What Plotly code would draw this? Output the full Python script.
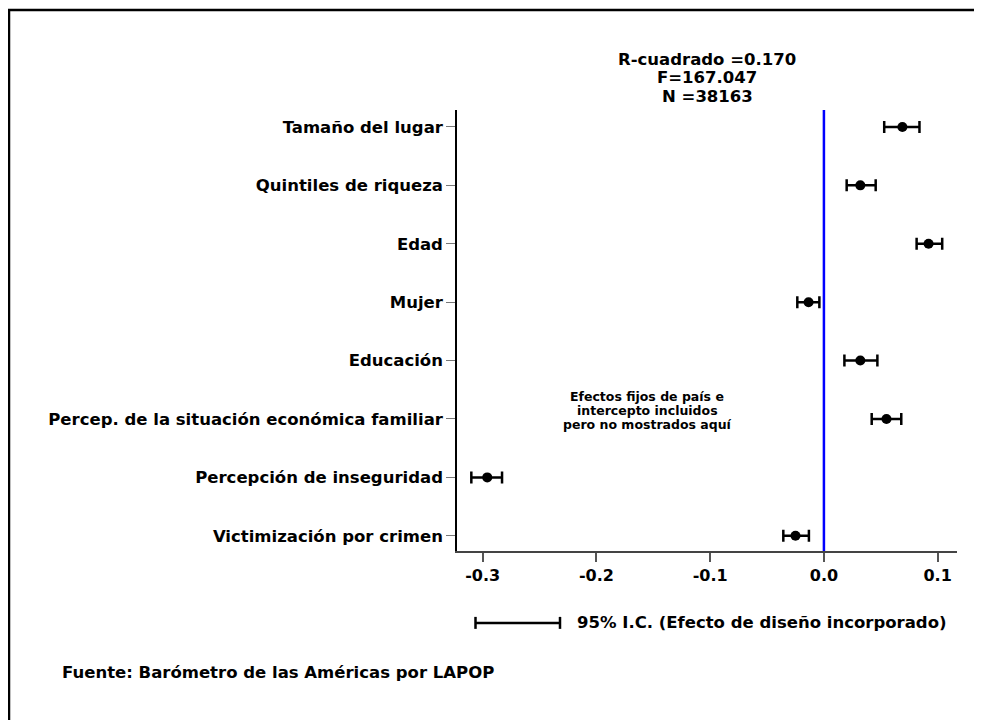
"""Coeficientes de regresión con intervalos de confianza al 95% (LAPOP)"""

import plotly.graph_objects as go

variables = [
    "Tamaño del lugar",
    "Quintiles de riqueza",
    "Edad",
    "Mujer",
    "Educación",
    "Percep. de la situación económica familiar",
    "Percepción de inseguridad",
    "Victimización por crimen",
]
coef = [0.069, 0.032, 0.092, -0.0135, 0.032, 0.055, -0.296, -0.025]
ci_low = [0.053, 0.020, 0.0815, -0.0234, 0.018, 0.042, -0.310, -0.0357]
ci_high = [0.084, 0.0455, 0.104, -0.004, 0.047, 0.068, -0.283, -0.0132]
x_ticks = [-0.3, -0.2, -0.1, 0.0, 0.1]

stats_lines = ["R-cuadrado =0.170", "F=167.047", "N =38163"]
note_lines = ["Efectos fijos de país e", "intercepto incluidos", "pero no mostrados aquí"]
legend_text = "95% I.C. (Efecto de diseño incorporado)"
source_text = "Fuente: Barómetro de las Américas por LAPOP"

FONT = "DejaVu Sans, Verdana, sans-serif"

err_plus = [h - c for h, c in zip(ci_high, coef)]
err_minus = [c - l for c, l in zip(coef, ci_low)]

fig = go.Figure()
fig.add_trace(go.Scatter(
    x=coef,
    y=variables,
    mode="markers",
    marker=dict(color="black", size=10),
    error_x=dict(type="data", symmetric=False, array=err_plus, arrayminus=err_minus,
                 color="black", thickness=2.5, width=6),
    showlegend=False,
    hoverinfo="x+y",
))

# blue reference line at zero
fig.add_shape(type="line", xref="x", yref="paper", x0=0, x1=0, y0=0, y1=1,
              line=dict(color="#0000ff", width=2.5))

# legend sample: CI bar with caps
LEG_Y = -0.163
fig.add_shape(type="line", xref="paper", yref="paper", x0=0.037, x1=0.206,
              y0=LEG_Y, y1=LEG_Y, line=dict(color="black", width=2.5))
for xc in (0.037, 0.206):
    fig.add_shape(type="line", xref="paper", yref="paper", x0=xc, x1=xc,
                  y0=LEG_Y - 0.0136, y1=LEG_Y + 0.0136, line=dict(color="black", width=2.5))

# outer frame (only top and left edges fall inside the image)
fig.add_shape(type="rect", xref="paper", yref="paper", x0=-0.896, x1=1.3,
              y0=-0.6, y1=1.2268, line=dict(color="black", width=2.5))

# stats block above the plot, tight line spacing -> one annotation per line
for i, line in enumerate(stats_lines):
    fig.add_annotation(text=line, xref="paper", yref="paper", x=0.5, y=1.115 - i * 0.0417,
                       yanchor="middle", showarrow=False,
                       font=dict(family=FONT, size=16.5, color="black", weight="bold"))

for i, line in enumerate(note_lines):
    fig.add_annotation(text=line, xref="x", yref="y", x=-0.1555, y=4.613 + i * 0.243,
                       yanchor="middle", showarrow=False,
                       font=dict(family=FONT, size=12.5, color="black", weight="bold"))

fig.add_annotation(text=legend_text, xref="paper", yref="paper", x=0.236, y=LEG_Y,
                   xanchor="left", yanchor="middle", showarrow=False,
                   font=dict(family=FONT, size=16.5, color="black", weight="bold"))
fig.add_annotation(text=source_text, xref="paper", yref="paper", x=-0.794, y=-0.2744,
                   xanchor="left", yanchor="middle", showarrow=False,
                   font=dict(family=FONT, size=16.5, color="black", weight="bold"))

# page body adds an 8px offset, so the figure is 8px smaller than the window
fig.update_layout(
    width=974, height=712,
    margin=dict(l=449, r=25, t=102, b=169, pad=0),
    paper_bgcolor="white", plot_bgcolor="white",
    font=dict(family=FONT, size=16.5, color="black"),
    xaxis=dict(range=[-0.3226, 0.117], tickvals=x_ticks,
               ticktext=[f"{v:.1f}" for v in x_ticks],
               showgrid=False, zeroline=False, showline=True, linecolor="#444",
               linewidth=1.5, ticks="outside", ticklen=9, tickwidth=1.5,
               tickcolor="#555", tickfont=dict(family=FONT, size=16, weight="bold")),
    yaxis=dict(range=[7.26, -0.29], showgrid=False, zeroline=False, showline=True,
               linecolor="black", linewidth=1.5, ticks="outside", ticklen=9,
               tickwidth=1.2, tickcolor="#777",
               tickfont=dict(family=FONT, size=16.5, weight="bold")),
)

fig.write_html("out.html")
